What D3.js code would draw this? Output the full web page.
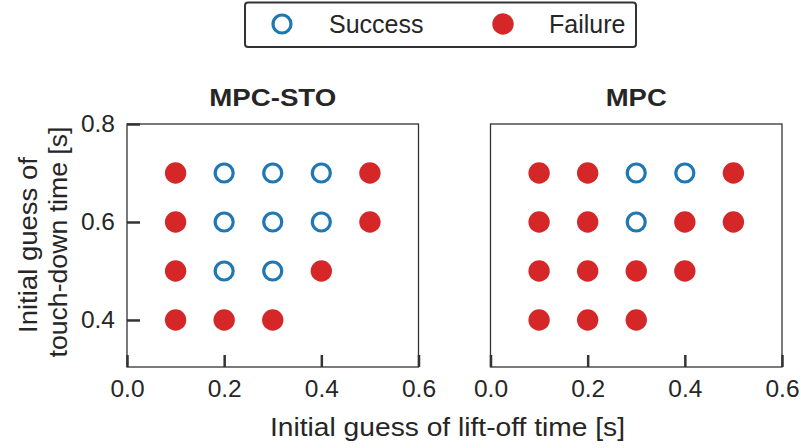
<!DOCTYPE html>
<html><head><meta charset="utf-8">
<script src="https://cdn.jsdelivr.net/npm/d3@7"></script>
<style>body{margin:0;background:#fff}svg{font-family:"Liberation Sans",Arial,sans-serif}</style>
</head><body>
<svg id="c" width="801" height="448"></svg>
<script>
const panels = ["MPC-STO", "MPC"];
const liftOff = [0.1, 0.2, 0.3, 0.4, 0.5, 0.1, 0.2, 0.3, 0.4, 0.5, 0.1, 0.2, 0.3, 0.4, 0.1, 0.2, 0.3];
const touchDown = [0.7, 0.7, 0.7, 0.7, 0.7, 0.6, 0.6, 0.6, 0.6, 0.6, 0.5, 0.5, 0.5, 0.5, 0.4, 0.4, 0.4];
const outcomeMPCSTO = ["F","S","S","S","F","F","S","S","S","F","F","S","S","F","F","F","F"];
const outcomeMPC    = ["F","F","S","S","F","F","F","S","F","F","F","F","F","F","F","F","F"];
const xTicks = [0.0, 0.2, 0.4, 0.6];
const yTicks = [0.4, 0.6, 0.8];
const legendLabels = ["Success", "Failure"];

(function () {
const outcomes = [outcomeMPCSTO, outcomeMPC];
const blue = "#1f77b4", red = "#d62728", dark = "#333", txt = "#262626";
const FF = "Liberation Sans, Arial, sans-serif";
const svg = d3.select("#c");
const plotTop = 124, plotBottom = 367;
const y = d3.scaleLinear().domain([0.304, 0.8]).range([plotBottom, plotTop]);
const lefts = [[127, 418.5], [490.5, 782]];
const titleWidths = [127, 61];

panels.forEach((title, p) => {
  const x = d3.scaleLinear().domain([0, 0.6]).range(lefts[p]);
  const g = svg.append("g");
  g.append("rect").attr("x", x(0)).attr("y", plotTop).attr("width", x(0.6)-x(0)).attr("height", plotBottom-plotTop)
    .attr("fill", "none").attr("stroke", dark).attr("stroke-width", 1.3);
  const xa = g.append("g").attr("transform", `translate(0,${plotBottom})`)
    .call(d3.axisBottom(x).tickValues(xTicks).tickFormat(d3.format(".1f")).tickSizeInner(-12).tickSizeOuter(0).tickPadding(13));
  xa.select(".domain").remove();
  xa.selectAll("line").attr("stroke", dark).attr("stroke-width", 2.5);
  xa.selectAll("text").attr("font-size", 24.5).attr("fill", txt).attr("font-family", FF);
  if (p === 0) {
    const ya = g.append("g").attr("transform", `translate(${x(0)},0)`)
      .call(d3.axisLeft(y).tickValues(yTicks).tickFormat(d3.format(".1f")).tickSizeInner(-13).tickSizeOuter(0).tickPadding(12));
    ya.select(".domain").remove();
    ya.selectAll("line").attr("stroke", dark).attr("stroke-width", 2.5);
    ya.selectAll("text").attr("font-size", 24.5).attr("fill", txt).attr("font-family", FF);
  }
  g.append("text").attr("x", (x(0)+x(0.6))/2).attr("y", 106).attr("text-anchor", "middle")
    .attr("font-size", 24).attr("font-weight", "bold").attr("fill", txt)
    .attr("textLength", titleWidths[p]).attr("lengthAdjust", "spacingAndGlyphs").text(title);
  liftOff.forEach((lx, i) => {
    const s = outcomes[p][i] === "S";
    g.append("circle").attr("cx", x(lx)).attr("cy", y(touchDown[i]))
      .attr("r", s ? 9 : 10.7)
      .attr("fill", s ? "none" : red)
      .attr("stroke", s ? blue : "none").attr("stroke-width", 3.2);
  });
});

svg.append("text").attr("x", 447.5).attr("y", 436).attr("text-anchor", "middle")
  .attr("font-size", 25).attr("fill", txt)
  .attr("textLength", 355).attr("lengthAdjust", "spacingAndGlyphs")
  .text("Initial guess of lift-off time [s]");
svg.append("text").attr("transform", "translate(37,245) rotate(-90)")
  .attr("text-anchor", "middle").attr("font-size", 25).attr("fill", txt)
  .attr("textLength", 176).attr("lengthAdjust", "spacingAndGlyphs").text("Initial guess of");
svg.append("text").attr("transform", "translate(67,242) rotate(-90)")
  .attr("text-anchor", "middle").attr("font-size", 25).attr("fill", txt)
  .attr("textLength", 231).attr("lengthAdjust", "spacingAndGlyphs").text("touch-down time [s]");

const lg = svg.append("g");
lg.append("rect").attr("x", 245).attr("y", 2.5).attr("width", 391).attr("height", 44.5).attr("rx", 3)
  .attr("fill", "#fff").attr("stroke", dark).attr("stroke-width", 2);
lg.append("circle").attr("cx", 282).attr("cy", 24).attr("r", 9).attr("fill", "none").attr("stroke", blue).attr("stroke-width", 3.2);
lg.append("text").attr("x", 329).attr("y", 33).attr("font-size", 25).attr("fill", txt).text(legendLabels[0]);
lg.append("circle").attr("cx", 503).attr("cy", 24).attr("r", 10.7).attr("fill", red);
lg.append("text").attr("x", 549).attr("y", 33).attr("font-size", 25).attr("fill", txt).text(legendLabels[1]);
})();
</script>
</body></html>
